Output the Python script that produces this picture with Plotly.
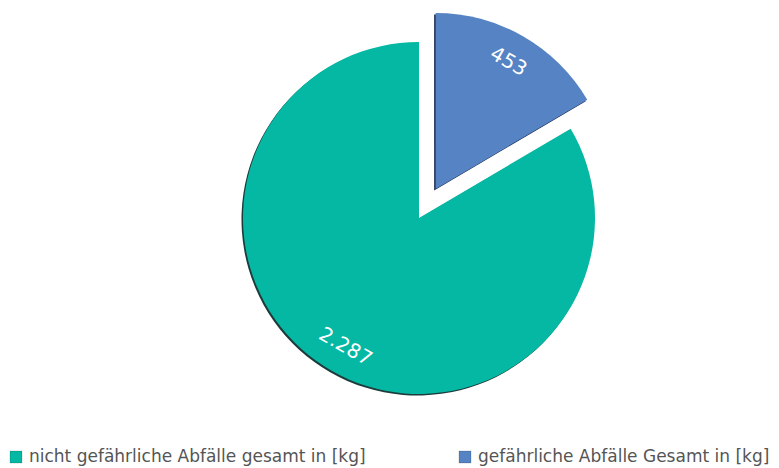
import math
import plotly.graph_objects as go

# Waste quantities in kg
labels = ["nicht gefährliche Abfälle gesamt in [kg]", "gefährliche Abfälle Gesamt in [kg]"]
values = [2287, 453]
colors = ["#05B8A3", "#5683C4"]
pulls = [0, 0.19]

W, H = 779, 468
cx, cy, r = 419, 218, 176          # pie centre and radius in px
# plotly divides the radius by (1 + largest pull), so widen the domain by that much
half = r * (1 + max(pulls))
dom_x = [(cx - half) / W, (cx + half) / W]
dom_y = [(H - cy - half) / H, (H - cy + half) / H]

total = sum(values)
# the second slice ends at 12 o'clock, so the first one starts right after it
start = values[1] / total * 360

fig = go.Figure()

# soft dark edge behind the slices
off = 1.5
fig.add_trace(go.Pie(
    labels=labels, values=values, sort=False, direction="clockwise",
    rotation=start, pull=pulls, showlegend=False, textinfo="none", hoverinfo="skip",
    marker=dict(colors=["#1d3b3a", "#1f2f52"]),
    domain=dict(x=[dom_x[0] - off / W, dom_x[1] - off / W],
                y=[dom_y[0] - off / H, dom_y[1] - off / H]),
))

fig.add_trace(go.Pie(
    labels=labels, values=values, sort=False, direction="clockwise",
    rotation=start, pull=pulls, showlegend=False,
    marker=dict(colors=colors),
    textinfo="none",
    domain=dict(x=dom_x, y=dom_y),
))

# value labels near the rim, turned along the arc
acc = start
for v, p in zip(values, pulls):
    span = v / total * 360
    mid = acc + span / 2
    acc += span
    rad = math.radians(mid)
    ox = cx + p * r * math.sin(rad)
    oy = cy - p * r * math.cos(rad)
    px = ox + 0.84 * r * math.sin(rad)
    py = oy - 0.84 * r * math.cos(rad)
    ang = mid % 180
    fig.add_annotation(
        x=px / W, y=1 - py / H, xref="paper", yref="paper",
        xanchor="center", yanchor="middle",
        text=f"{v:,}".replace(",", "."), showarrow=False,
        textangle=ang if ang < 90 else ang - 180,
        font=dict(color="white", size=20, family="DejaVu Sans, sans-serif"),
    )

# legend row along the bottom edge
legend_x = [10, 459]
for lab, col, lx in zip(labels, colors, legend_x):
    fig.add_shape(type="rect", xref="paper", yref="paper",
                  x0=lx / W, x1=(lx + 12) / W, y0=1 - 463 / H, y1=1 - 451 / H,
                  fillcolor=col, line=dict(color="rgba(0,0,0,0.25)", width=0.6))
    fig.add_annotation(x=(lx + 17) / W, y=1 - 456 / H, xref="paper", yref="paper",
                       xanchor="left", yanchor="middle", showarrow=False,
                       text=lab, font=dict(size=17, color="#555555"))

fig.update_layout(
    width=W, height=H,
    margin=dict(l=0, r=0, t=0, b=0),
    paper_bgcolor="white",
    font=dict(family="DejaVu Sans, sans-serif", color="#555555", size=17),
    showlegend=False,
)

fig.write_html("out.html")
